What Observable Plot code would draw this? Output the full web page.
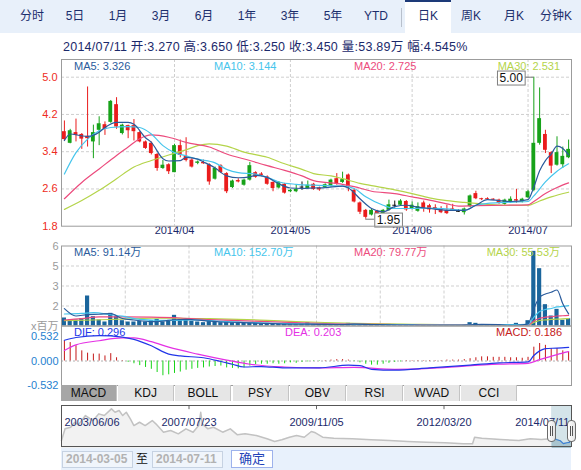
<!DOCTYPE html>
<html>
<head>
<meta charset="utf-8">
<script src="https://cdn.jsdelivr.net/npm/d3@7"></script>
<script src="https://cdn.jsdelivr.net/npm/@observablehq/plot@0.6"></script>
<style>
  html,body{margin:0;padding:0;background:#fff;}
  #root{position:relative;width:581px;height:470px;overflow:hidden;font-family:"Liberation Sans",Arial,"Noto Sans CJK SC",sans-serif;}
  .a{position:absolute;white-space:nowrap;}
  .tab{top:9px;font-size:12px;line-height:14px;color:#1b2e6c;transform:translateX(-50%);}
  .lg{font-size:11px;line-height:12px;}
  .itab{top:385px;height:16px;width:56px;background:#e6e6e6;border-right:1px solid #c4c4c4;box-sizing:border-box;font-size:12px;line-height:16px;text-align:center;color:#111;}
  .handle{top:420px;width:9px;height:22px;border:1px solid #6a6a6a;border-radius:4px;background:linear-gradient(90deg,#fff,#e4e4e4);box-sizing:border-box;}
  .handle div{position:absolute;left:2px;top:5px;width:1px;height:10px;border-left:1px solid #555;border-right:1px solid #555;}
  .inp{top:451px;height:17px;width:71px;border:1px solid #c6d2e2;background:#f0f5fb;box-sizing:border-box;font-size:12px;line-height:15px;color:#b2b2b2;font-weight:bold;padding-left:3px;}
</style>
</head>
<body>
<div id="root"></div>
<script>
// ---------------- DATA ----------------
const topTabs = ["分时","5日","1月","3月","6月","1年","3年","5年","YTD","日K","周K","月K","分钟K"];
const activeTab = "日K";
const dateLast = "2014/07/11";
const volLastText = "53.89万";
const pctLastText = "4.545%";

const opens = [3.83,3.58,3.81,3.77,3.73,3.61,3.86,3.98,4.03,4.41, 3.79,3.96,3.96,3.81,3.61,3.58,3.34,3.04,3.12,2.95,
  3.53,3.30,3.22,3.15,3.17,3.12,2.81,3.10,2.93,2.63, 2.78,2.68,2.79,2.95,2.92,2.86,2.74,2.62,2.70,2.54,
  2.54,2.64,2.61,2.70,2.62,2.63,2.66,2.82,2.74,2.90, 2.57,2.30,2.14,2.04,2.12,2.05,2.14,2.25,2.25,2.33,
  2.17,2.12,2.30,2.24,2.20,2.18,2.14,2.17,2.12,2.09, 2.22,2.50,2.39,2.39,2.38,2.36,2.27,2.31,2.37,2.32,
  2.41,2.57,3.58,3.77,3.38,3.11,3.12,3.27];
const highs = [4.06,3.88,4.10,3.79,4.79,3.97,4.15,4.04,4.50,4.56, 3.99,3.97,4.09,3.83,3.63,3.61,3.36,3.21,3.14,3.56,
  3.65,3.70,3.25,3.20,3.22,3.14,3.07,3.12,2.95,2.79, 2.82,2.81,3.17,2.97,2.95,2.88,2.75,2.76,2.72,2.59,
  2.68,2.75,2.77,2.72,2.64,2.71,2.81,2.93,2.96,2.92, 2.60,2.32,2.16,2.16,2.14,2.16,2.36,2.34,2.37,2.35,
  2.32,2.30,2.34,2.27,2.26,2.22,2.25,2.27,2.15,2.19, 2.47,2.55,2.40,2.41,2.39,2.38,2.38,2.43,2.59,2.40,
  2.57,5.00,4.77,3.86,3.40,3.72,3.50,3.65];
const lows = [3.62,3.57,3.61,3.45,3.50,3.25,3.53,3.75,4.01,3.88, 3.76,3.68,3.63,3.59,3.45,3.33,2.98,3.02,2.91,2.95,
  3.27,3.18,3.05,3.12,3.13,2.68,2.79,2.93,2.50,2.61, 2.73,2.66,2.77,2.83,2.86,2.68,2.54,2.60,2.49,2.52,
  2.52,2.57,2.59,2.57,2.55,2.61,2.64,2.68,2.72,2.54, 2.30,2.05,1.95,2.02,2.00,2.03,2.12,2.19,2.23,2.12,
  2.15,2.10,2.10,2.08,2.05,2.07,2.05,2.12,2.10,2.04, 2.20,2.37,2.35,2.36,2.35,2.27,2.25,2.29,2.29,2.30,
  2.39,2.54,3.54,3.36,2.93,3.09,3.04,3.25];
const closes = [3.66,3.85,3.75,3.67,3.68,3.81,4.00,3.88,4.48,3.93, 3.97,3.85,3.83,3.61,3.47,3.36,3.04,3.11,2.97,3.53,
  3.32,3.21,3.07,3.18,3.14,2.75,3.04,2.95,2.54,2.77, 2.75,2.79,3.10,2.85,2.89,2.70,2.61,2.74,2.51,2.57,
  2.59,2.64,2.68,2.59,2.58,2.69,2.79,2.70,2.80,2.64, 2.32,2.10,1.99,2.14,2.05,2.14,2.26,2.25,2.34,2.15,
  2.25,2.22,2.18,2.15,2.16,2.09,2.07,2.14,2.12,2.17, 2.45,2.39,2.37,2.37,2.36,2.29,2.36,2.38,2.34,2.38,
  2.54,3.58,4.11,3.43,3.09,3.38,3.30,3.45];

const monthTickIdx = [19, 39, 60, 80];
const monthTickLbl = ["2014/04","2014/05","2014/06","2014/07"];
const priceTicks = [5.0, 4.2, 3.4, 2.6, 1.8];

const ma5 = [[0,3.64],[1,3.78],[3,3.74],[4,3.73],[6,3.82],[7,3.92],[9,4.03],[11,4.03],[12,3.99],[14,3.70],[15,3.60],[17,3.25],[18,3.20],[20,3.21],[21,3.28],[23,3.24],[24,3.18],[26,3.05],[28,2.88],[30,2.84],[32,2.86],[33,2.89],[35,2.85],[37,2.71],[39,2.62],[41,2.61],[43,2.62],[45,2.63],[48,2.66],[49,2.62],[51,2.39],[53,2.18],[55,2.11],[57,2.22],[59,2.25],[61,2.21],[63,2.18],[66,2.14],[69,2.14],[71,2.25],[73,2.37],[75,2.35],[77,2.33],[80,2.37],[81,2.64],[82,2.99],[83,3.21],[84,3.35],[85,3.52],[86,3.47],[87,3.33]];
const ma10 = [[0,2.92],[2,3.38],[4,3.67],[6,3.85],[8,3.92],[11,3.94],[13,3.92],[15,3.78],[17,3.53],[19,3.38],[21,3.31],[23,3.24],[26,3.16],[28,3.02],[30,2.95],[33,2.92],[35,2.85],[37,2.75],[40,2.70],[43,2.68],[48,2.66],[50,2.61],[52,2.43],[55,2.25],[57,2.18],[60,2.18],[63,2.19],[66,2.17],[69,2.14],[71,2.25],[73,2.29],[76,2.31],[80,2.33],[81,2.45],[83,2.75],[85,2.98],[87,3.14]];
const ma20 = [[0,2.39],[3,2.74],[6,3.03],[9,3.32],[11,3.50],[13,3.68],[15,3.76],[18,3.71],[21,3.60],[25,3.50],[28,3.35],[32,3.21],[35,3.10],[38,3.00],[41,2.88],[43,2.78],[48,2.70],[50,2.65],[53,2.55],[57,2.50],[60,2.43],[63,2.36],[66,2.28],[68,2.23],[71,2.24],[76,2.25],[80,2.26],[81,2.33],[83,2.50],[85,2.63],[87,2.73]];
const ma30 = [[0,2.16],[3,2.35],[6,2.57],[9,2.82],[12,3.07],[15,3.21],[18,3.33],[21,3.44],[23,3.53],[25,3.57],[28,3.52],[31,3.39],[35,3.28],[38,3.14],[41,3.02],[43,2.93],[46,2.88],[48,2.82],[51,2.72],[54,2.65],[57,2.58],[60,2.50],[63,2.41],[66,2.35],[69,2.31],[73,2.27],[76,2.25],[80,2.25],[82,2.34],[84,2.43],[87,2.53]];
const maLegend = [["MA5","3.326"],["MA10","3.144"],["MA20","2.725"],["MA30","2.531"]];

// volume, millions of shares
const volume = [0.60,0.45,0.45,0.55,2.25,0.70,0.45,0.30,0.95,0.70, 0.40,0.30,0.30,0.35,0.30,0.40,0.50,0.30,0.35,0.80,
  0.50,0.50,0.35,0.30,0.25,0.35,0.30,0.25,0.35,0.25, 0.20,0.20,0.25,0.20,0.15,0.20,0.15,0.15,0.20,0.10,
  0.10,0.12,0.25,0.10,0.08,0.10,0.10,0.12,0.10,0.20, 0.15,0.12,0.10,0.08,0.06,0.10,0.12,0.08,0.06,0.08,
  0.05,0.06,0.05,0.05,0.05,0.05,0.04,0.04,0.04,0.05, 0.25,0.20,0.06,0.05,0.04,0.05,0.05,0.06,0.20,0.10,
  0.40,5.60,4.30,1.60,0.75,1.25,0.43,0.54];
const volMa5 = [[0,1.30],[2,0.75],[4,0.86],[6,0.88],[8,0.93],[10,0.56],[12,0.45],[15,0.33],[17,0.37],[19,0.47],[21,0.49],[24,0.41],[27,0.30],[30,0.27],[33,0.22],[36,0.18],[39,0.14],[42,0.14],[45,0.12],[48,0.11],[50,0.14],[53,0.11],[56,0.09],[60,0.06],[64,0.05],[68,0.04],[70,0.08],[72,0.12],[75,0.10],[77,0.05],[79,0.09],[80,0.16],[81,1.28],[82,2.16],[83,2.40],[84,2.53],[85,2.70],[86,1.67],[87,0.91]];
const volMa10 = [[0,0.90],[3,0.95],[5,1.00],[8,0.85],[10,0.74],[13,0.50],[16,0.43],[19,0.42],[22,0.45],[25,0.40],[28,0.33],[31,0.28],[35,0.22],[40,0.16],[45,0.13],[50,0.12],[55,0.11],[60,0.08],[65,0.06],[70,0.07],[75,0.09],[80,0.12],[81,0.65],[82,1.08],[83,1.24],[84,1.31],[85,1.43],[86,1.47],[87,1.53]];
const volMa20 = [[0,0.45],[3,0.55],[6,0.68],[10,0.68],[15,0.66],[20,0.60],[25,0.48],[30,0.40],[35,0.33],[40,0.25],[45,0.18],[50,0.14],[55,0.12],[60,0.10],[65,0.08],[70,0.08],[75,0.07],[80,0.09],[81,0.37],[82,0.58],[83,0.66],[84,0.69],[85,0.75],[86,0.77],[87,0.80]];
const volMa30 = [[0,0.40],[5,0.45],[10,0.52],[15,0.58],[20,0.58],[25,0.55],[30,0.50],[35,0.42],[40,0.33],[45,0.26],[50,0.20],[55,0.16],[60,0.13],[65,0.10],[70,0.09],[75,0.08],[80,0.08],[81,0.27],[82,0.41],[83,0.46],[84,0.49],[85,0.52],[86,0.54],[87,0.555]];
const volLegend = [["MA5","91.14万"],["MA10","152.70万"],["MA20","79.77万"],["MA30","55.53万"]];
const volTickVals = [6, 4.5, 3, 1.5, 0];
const volTickLbl = ["6","5","3","2","x百万"];

const macdHist = [0.44,0.40,0.33,0.22,0.17,0.15,0.15,0.11,0.16,0.07,
  0.01,-0.03,-0.06,-0.10,-0.14,-0.18,-0.25,-0.32,-0.30,-0.27,
  -0.24,-0.20,-0.18,-0.16,-0.15,-0.13,-0.12,-0.11,-0.15,-0.16,
  -0.17,-0.15,-0.11,-0.08,-0.07,-0.07,-0.06,-0.07,-0.06,-0.04,
  -0.05,-0.03,-0.02,-0.01,-0.01,0.01,0.02,0.03,0.03,0.02,
  -0.01,-0.04,-0.07,-0.09,-0.09,-0.07,-0.05,-0.03,-0.02,0.01,
  0.01,0.01,0.01,0.01,0.01,0.01,0.02,0.02,0.02,0.03,
  0.05,0.07,0.09,0.09,0.08,0.08,0.08,0.07,0.07,0.06,
  0.08,0.30,0.38,0.34,0.27,0.27,0.22,0.19];
const dif = [[0,0.45],[2,0.51],[6,0.55],[10,0.52],[12,0.47],[15,0.33],[18,0.15],[20,0.11],[24,0.07],[27,-0.01],[29,-0.07],[31,-0.13],[34,-0.12],[38,-0.15],[44,-0.15],[49,-0.09],[51,-0.10],[53,-0.18],[57,-0.20],[63,-0.15],[70,-0.09],[75,-0.04],[80,-0.02],[81,0.12],[82,0.22],[83,0.27],[85,0.28],[87,0.296]];
const dea = [[0,0.23],[2,0.35],[6,0.44],[10,0.50],[12,0.50],[15,0.42],[18,0.30],[23,0.15],[28,0.02],[32,-0.07],[38,-0.13],[44,-0.15],[50,-0.14],[57,-0.18],[63,-0.16],[69,-0.11],[75,-0.07],[80,-0.05],[82,0.03],[85,0.14],[87,0.203]];
const macdTicks = [0.532, 0, -0.532];
const macdLegend = [["DIF","0.296"],["DEA","0.203"],["MACD","0.186"]];
const indTabs = ["MACD","KDJ","BOLL","PSY","OBV","RSI","WVAD","CCI"];

// long-term navigator (position 0..100, price)
const navHist = [[0,2.75],[0.7,5.57],[1.8,5.95],[2.6,7.16],[3.3,6.53],[4.7,8.77],[6.2,7.57],[7.3,9.18],[8.4,8.77],[9.8,10.39],[10.5,9.57],[11.3,9.98],[12,8.77],[12.7,9.57],[13.5,7.98],[14.2,6.36],[15.3,7.16],[16.4,6.36],[17.8,7.57],[18.5,6.77],[20,4.75],[21.4,5.16],[22.9,4.36],[24.4,5.57],[25.8,4.75],[26.9,6.36],[27.3,9.57],[27.6,6.77],[28.7,5.57],[29.8,5.95],[31.6,4.75],[33.1,5.57],[34.5,4.12],[36,4.36],[38.2,3.95],[40.3,3.16],[41.8,2.51],[43.2,2.91],[44.7,3.54],[46.1,3.95],[47.6,3.54],[49,4.92],[49.8,4.60],[51.2,3.54],[53.4,3.30],[57,3.16],[60.7,2.91],[64.3,2.75],[67.9,2.51],[71.5,2.34],[75.2,2.19],[78.8,1.95],[80.6,1.95],[81,3.54],[82.4,3.30],[86.1,2.99],[89.7,2.75],[91.9,3.16],[94.1,2.99],[95.3,3.10],[96.2,3.70],[97.0,3.00],[97.8,2.70],[98.4,2.00],[99.1,2.20],[99.6,2.30],[99.8,3.60],[100,3.40]];
const navTickIdx = [0, 25, 50, 75, 100];
const navTickLbl = ["2003/06/06","2007/07/23","2009/11/05","2012/03/20","2014/07/11"];
const navSel = [96.1, 100];
const rangeFrom = "2014-03-05", rangeTo = "2014-07-11";

// ---------------- STYLE ----------------
const FONT = '"Liberation Sans", Arial, "Noto Sans CJK SC", sans-serif';
const NAVY = "#1b2a6b";
const UP = "#17a219", DOWN = "#ea1c1c", FLAT = "#111";
const C5 = "#2a5b9c", C10 = "#46c5ec", C20 = "#ec4b7d", C30 = "#b4d44a";
const maColors = [C5, C10, C20, C30];
const dash = {stroke: "#cfcfcf", strokeDasharray: "3,2"};
const pStyle = {fontFamily: FONT, fontSize: "11px", overflow: "visible", background: "transparent"};
const W = 581, ML = 61, MR = 10;

const root = document.getElementById("root");
function add(cls, css, text) {
  const e = document.createElement("div");
  e.className = "a " + (cls || "");
  Object.assign(e.style, css || {});
  if (text != null) e.textContent = text;
  root.appendChild(e);
  return e;
}
function place(svg, top) {
  svg.style.position = "absolute"; svg.style.left = "0px"; svg.style.top = top + "px";
  root.appendChild(svg);
  return svg;
}

// ---------------- TOP TABS ----------------
add("", {left: "0px", top: "0px", width: W + "px", height: "33px", background: "#e8f0fa"});
const tabX = [32,75,118,161,204,247,290,333,376,428,471,514,556];
add("", {left: "405px", top: "0px", width: "46px", height: "33px", background: "#fff", borderTop: "2px solid #1d3a78", boxSizing: "border-box"});
add("", {left: "401px", top: "8px", width: "1px", height: "19px", background: "#b8c0cc"});
topTabs.forEach((t, k) => add("tab", {left: tabX[k] + "px"}, t));

// info line
const L = opens.length - 1;
add("", {left: "63px", top: "40px", fontSize: "12.5px", letterSpacing: "0.25px", lineHeight: "14px", color: NAVY},
  `${dateLast} 开:${opens[L].toFixed(3)} 高:${highs[L].toFixed(3)} 低:${lows[L].toFixed(3)} 收:${closes[L].toFixed(3)} 量:${volLastText} 幅:${pctLastText}`);

// ---------------- MAIN CANDLE CHART ----------------
const N = opens.length;
const candles = opens.map((o, i) => ({i, o, h: highs[i], l: lows[i], c: closes[i]}));
const col = d => d.c > d.o ? UP : d.c < d.o ? DOWN : FLAT;
const xDom = [-0.5, N - 0.5];
const HW = 0.33;
const iMax = d3.maxIndex(candles, d => d.h), iMin = d3.minIndex(candles, d => d.l);
const annotTexts = [candles[iMax].h.toFixed(2), candles[iMin].l.toFixed(2)];
const pt = p => ({x: p[0], y: p[1]});
const maLine = (arr, stroke) => Plot.line(arr.map(pt), {x: "x", y: "y", stroke, strokeWidth: 1.2, curve: "monotone-x", clip: true});

const mainPlot = Plot.plot({
  width: W, height: 187, marginLeft: ML, marginRight: MR, marginTop: 4, marginBottom: 16.3,
  style: pStyle, color: {type: "identity"},
  x: {domain: xDom, axis: null},
  y: {domain: [1.8, 5.38], axis: null},
  marks: [
    Plot.ruleY(priceTicks.slice(0, -1), dash),
    Plot.ruleX(monthTickIdx, dash),
    Plot.ruleX(candles, {x: "i", y1: "l", y2: "h", stroke: col}),
    Plot.rect(candles.filter(d => d.o !== d.c), {x1: d => d.i - HW, x2: d => d.i + HW, y1: "o", y2: "c", fill: col}),
    Plot.ruleY(candles.filter(d => d.o === d.c), {y: "c", x1: d => d.i - HW, x2: d => d.i + HW, stroke: FLAT}),
    maLine(ma30, C30), maLine(ma20, C20), maLine(ma10, C10), maLine(ma5, C5),
    Plot.text(priceTicks, {y: d => d, text: d => d.toFixed(1), frameAnchor: "left", textAnchor: "end", dx: -4, fill: "#ee2b22"}),
    Plot.text(monthTickIdx, {x: d => d, text: (d, k) => monthTickLbl[k], frameAnchor: "bottom", dy: 8, fill: NAVY}),
    Plot.ruleY([candles[iMax]], {y: "h", x1: d => d.i - 1.5, x2: d => d.i, stroke: "#777"}),
    Plot.text([candles[iMax]], {x: "i", y: "h", text: d => d.h.toFixed(2), textAnchor: "end", dx: -11, dy: 1, fill: "#111", fontSize: 12}),
    Plot.ruleY([candles[iMin]], {y: "l", x1: d => d.i, x2: d => d.i + 1.5, stroke: "#777"}),
    Plot.text([candles[iMin]], {x: "i", y: "l", text: d => d.l.toFixed(2), textAnchor: "start", dx: 11, dy: 1, fill: "#111", fontSize: 12}),
    Plot.frame({stroke: "#9c9c9c"})
  ]
});
place(mainPlot, 55);
Array.from(mainPlot.querySelectorAll("text")).filter(t => annotTexts.includes(t.textContent.trim())).forEach(t => {
  const b = t.getBBox();
  const r = document.createElementNS("http://www.w3.org/2000/svg", "rect");
  r.setAttribute("x", b.x - 2); r.setAttribute("y", b.y);
  r.setAttribute("width", b.width + 4); r.setAttribute("height", b.height);
  r.setAttribute("fill", "#fff"); r.setAttribute("stroke", "#808080");
  if (t.getAttribute("transform")) r.setAttribute("transform", t.getAttribute("transform"));
  t.parentNode.insertBefore(r, t);
});
// main legend
const mainLgX = [74, 214, 354, null];
maLegend.forEach(([n, v], k) => {
  const css = {top: "60px", color: maColors[k]};
  if (mainLgX[k] != null) css.left = mainLgX[k] + "px"; else css.right = (W - 560) + "px";
  add("lg", css, `${n}: ${v}`);
});

// ---------------- VOLUME ----------------
const volData = volume.map((v, i) => ({i, v}));
const volGridX = d3.range(1, 8).map(k => xDom[0] + k * N / 8);
const volPlot = Plot.plot({
  width: W, height: 90, marginLeft: ML, marginRight: MR, marginTop: 5.5, marginBottom: 4.5,
  style: pStyle,
  x: {domain: xDom, axis: null},
  y: {domain: [0, 6], axis: null},
  marks: [
    Plot.ruleY(volTickVals.slice(1, -1), dash),
    Plot.ruleX(volGridX, dash),
    Plot.rect(volData, {x1: d => d.i - 0.36, x2: d => d.i + 0.36, y1: 0, y2: "v", fill: "#1a659c"}),
    maLine(volMa30, C30), maLine(volMa20, C20), maLine(volMa10, C10), maLine(volMa5, C5),
    Plot.text(volTickVals, {y: d => d, text: (d, k) => volTickLbl[k], frameAnchor: "left", textAnchor: "end", dx: -3, fill: "#9a9a9a"}),
    Plot.frame({stroke: "#9c9c9c"})
  ]
});
place(volPlot, 240);
const volLgX = [74, 214, 354, null];
volLegend.forEach(([n, v], k) => {
  const css = {top: "246px", color: maColors[k]};
  if (volLgX[k] != null) css.left = volLgX[k] + "px"; else css.right = (W - 560) + "px";
  add("lg", css, `${n}: ${v}`);
});

// ---------------- MACD ----------------
const histData = macdHist.map((v, i) => ({i, v}));
const macdPlot = Plot.plot({
  width: W, height: 66, marginLeft: ML, marginRight: MR, marginTop: 3.5, marginBottom: 3,
  style: pStyle, color: {type: "identity"},
  x: {domain: xDom, axis: null},
  y: {domain: [-0.532, 0.76], axis: null},
  marks: [
    Plot.ruleY([0], {stroke: "#b0b0b0", strokeDasharray: "2,2"}),
    Plot.ruleX(histData, {x: "i", y1: 0, y2: "v", stroke: d => d.v >= 0 ? "#c41818" : "#18d418"}),
    Plot.line(dea.map(pt), {x: "x", y: "y", stroke: "#e430e4", strokeWidth: 1.2, curve: "monotone-x"}),
    Plot.line(dif.map(pt), {x: "x", y: "y", stroke: "#2236e8", strokeWidth: 1.2, curve: "monotone-x"}),
    Plot.text(macdTicks, {y: d => d, text: d => d.toFixed(3), frameAnchor: "left", textAnchor: "end", dx: -3, fill: "#1f7fd0"}),
    Plot.frame({stroke: "#9c9c9c"})
  ]
});
place(macdPlot, 322);
const macdColors = ["#2236e8", "#e430e4", "#c42020"];
const macdLgX = [74, 285, null];
macdLegend.forEach(([n, v], k) => {
  const css = {top: "326px", color: macdColors[k]};
  if (macdLgX[k] != null) css.left = macdLgX[k] + "px"; else css.right = (W - 562) + "px";
  add("lg", css, `${n}: ${v}`);
});

// indicator tabs
indTabs.forEach((t, k) => {
  const e = add("itab", {left: (61 + k * 57.2) + "px"}, t);
  if (k === 0) e.style.background = "#a6a6a6";
});

// ---------------- NAVIGATOR ----------------
const navData = navHist.map(pt);
const navSelData = navData.filter(d => d.x >= navSel[0]);
const navPlot = Plot.plot({
  width: W, height: 50, marginLeft: ML, marginRight: MR, marginTop: 5, marginBottom: 4,
  style: pStyle,
  x: {domain: [0, 100], axis: null},
  y: {domain: [1.3, 11.2], axis: null},
  marks: [
    Plot.areaY(navData, {x: "x", y: "y", fill: "#f2f2f2"}),
    Plot.line(navData, {x: "x", y: "y", stroke: "#c2c2c2"}),
    Plot.rect([navSel], {x1: d => d[0], x2: d => d[1], y1: () => 1.3, y2: () => 11.2, fill: "#c6dbe2", fillOpacity: 0.75}),
    Plot.areaY(navSelData, {x: "x", y: "y", fill: "#a9c5cf"}),
    Plot.line(navSelData, {x: "x", y: "y", stroke: "#3a7fd4", strokeWidth: 1.2}),
    Plot.ruleX(navTickIdx.slice(1, -1), {y1: () => 11.2, y2: () => 10.2, stroke: "#666"}),
    Plot.text([navTickIdx[0]], {x: d => d, text: () => navTickLbl[0], frameAnchor: "top", dy: 13, dx: 3, textAnchor: "start", fill: NAVY}),
    Plot.text(navTickIdx.slice(1, -1), {x: d => d, text: (d, k) => navTickLbl[k + 1], frameAnchor: "top", dy: 13, fill: NAVY}),
    Plot.text([navTickIdx[navTickIdx.length - 1]], {x: d => d, text: () => navTickLbl[navTickLbl.length - 1], frameAnchor: "top", dy: 13, dx: -2, textAnchor: "end", fill: NAVY}),
    Plot.frame({stroke: "#555"})
  ]
});
place(navPlot, 400);
navSel.forEach(v => {
  const cx = ML + v / 100 * (W - ML - MR);
  const h = add("handle", {left: (cx - 4.5) + "px"});
  h.appendChild(document.createElement("div"));
});

// ---------------- BOTTOM ROW ----------------
add("", {left: "61px", top: "448px", width: "510px", height: "22px", background: "#e8f1fc"});
add("inp", {left: "62px"}, rangeFrom);
add("", {left: "136px", top: "452px", fontSize: "12px", lineHeight: "14px", color: "#111"}, "至");
add("inp", {left: "152px"}, rangeTo);
add("", {left: "231px", top: "450px", width: "42px", height: "18px", border: "1px solid #9db2ec", background: "#fff", boxSizing: "border-box",
  fontSize: "13px", lineHeight: "16px", textAlign: "center", color: "#2443b8"}, "确定");
</script>
</body>
</html>
